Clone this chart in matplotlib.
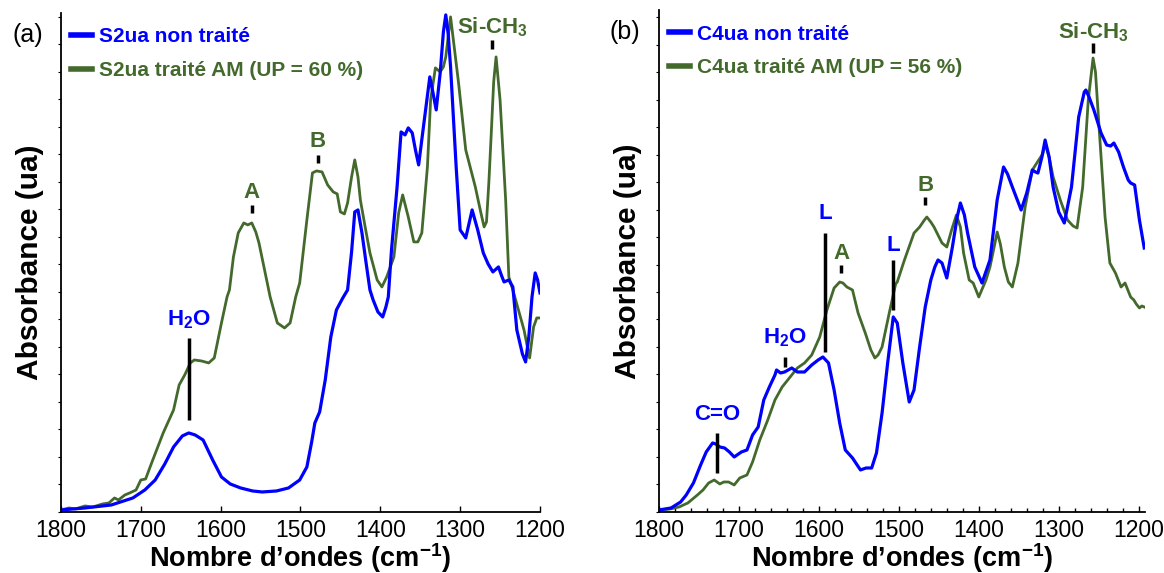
import matplotlib
matplotlib.use("Agg")
import matplotlib.pyplot as plt
from matplotlib.ticker import MultipleLocator, NullFormatter

plt.rcParams['font.family'] = ['Liberation Sans', 'DejaVu Sans']
plt.rcParams['mathtext.fontset'] = 'custom'
plt.rcParams['mathtext.rm'] = 'Liberation Sans'
plt.rcParams['mathtext.bf'] = 'Liberation Sans:bold'
plt.rcParams['mathtext.default'] = 'bf'

BLUE = '#0000FF'
GREEN = '#436A2C'

# ---- panel (a) data : S2ua ----
wn_a_blue = [1800, 1770, 1737, 1710, 1695, 1682, 1670, 1659, 1648, 1640, 1632, 1622, 1610, 1599,
             1588, 1575, 1560, 1548, 1530, 1515, 1501, 1492, 1486, 1482, 1476, 1469, 1462, 1455,
             1447, 1441, 1436, 1432, 1428, 1423, 1418, 1413, 1409, 1403, 1397, 1393, 1390, 1386,
             1379, 1374, 1369, 1365, 1360, 1356, 1352, 1346, 1342, 1338, 1334, 1330, 1325, 1321,
             1318, 1315, 1312, 1305, 1300, 1293, 1285, 1278, 1271, 1265, 1259, 1252, 1248, 1245,
             1239, 1234, 1229, 1222, 1218, 1214, 1210, 1206, 1203, 1200]
abs_a_blue = [2, 4, 7, 14, 22, 32, 48, 65, 76, 79, 77, 72, 52, 35,
              28, 24, 21, 20, 21, 24, 32, 45, 70, 89, 100, 132, 175, 202,
              214, 222, 260, 300, 302, 279, 250, 222, 212, 200, 195, 205, 215, 262,
              325, 380, 377, 384, 379, 362, 347, 385, 410, 435, 419, 402, 439, 480,
              497, 478, 445, 345, 282, 274, 302, 282, 259, 248, 240, 245, 236, 230,
              232, 225, 182, 158, 150, 175, 215, 239, 232, 219]

wn_a_green = [1800, 1790, 1782, 1770, 1760, 1748, 1740, 1733, 1728, 1720, 1714, 1706, 1700, 1694,
              1686, 1672, 1659, 1652, 1645, 1638, 1633, 1624, 1615, 1608, 1599, 1592, 1589, 1584,
              1578, 1571, 1566, 1561, 1556, 1552, 1545, 1538, 1529, 1520, 1513, 1506, 1501, 1492,
              1485, 1480, 1473, 1466, 1459, 1454, 1450, 1445, 1441, 1436, 1432, 1428, 1425, 1419,
              1413, 1404, 1398, 1392, 1383, 1377, 1372, 1365, 1358, 1353, 1348, 1341, 1337, 1331,
              1325, 1321, 1318, 1312, 1302, 1293, 1281, 1274, 1270, 1267, 1264, 1261, 1258, 1255,
              1250, 1243, 1239, 1234, 1227, 1220, 1213, 1208, 1204, 1200]
abs_a_green = [2, 4, 3, 6, 5, 8, 9, 14, 12, 17, 19, 22, 32, 33,
               50, 79, 102, 127, 137, 149, 152, 151, 149, 154, 189, 215, 222, 255,
               279, 289, 287, 289, 280, 269, 242, 215, 189, 184, 189, 215, 229, 292,
               339, 341, 340, 327, 320, 318, 300, 298, 309, 335, 352, 335, 312, 285,
               259, 232, 225, 235, 255, 299, 317, 295, 270, 270, 279, 345, 412, 444,
               440, 445, 455, 495, 429, 362, 325, 299, 285, 290, 330, 379, 430, 455,
               412, 312, 235, 222, 202, 182, 154, 185, 194, 194]

# ---- panel (b) data : C4ua ----
wn_b_blue = [1800, 1785, 1773, 1766, 1757, 1748, 1741, 1733, 1729, 1724, 1718, 1712, 1706, 1697,
             1690, 1683, 1676, 1669, 1662, 1655, 1653, 1648, 1643, 1634, 1627, 1618, 1609, 1601,
             1595, 1588, 1581, 1574, 1567, 1558, 1548, 1541, 1534, 1528, 1521, 1514, 1507, 1502,
             1495, 1487, 1481, 1474, 1467, 1460, 1455, 1451, 1446, 1440, 1433, 1427, 1423, 1418,
             1414, 1405, 1396, 1386, 1377, 1369, 1364, 1358, 1347, 1340, 1333, 1329, 1326, 1321,
             1317, 1312, 1307, 1300, 1293, 1284, 1275, 1268, 1266, 1262, 1256, 1247, 1240, 1235,
             1231, 1225, 1219, 1213, 1210, 1205, 1199, 1193]
abs_b_blue = [2, 4, 10, 17, 29, 47, 60, 69, 68, 65, 64, 60, 55, 60,
              62, 77, 85, 112, 125, 137, 142, 139, 140, 144, 140, 140, 147, 152,
              155, 149, 122, 89, 62, 54, 42, 44, 44, 59, 99, 149, 195, 189,
              149, 110, 122, 165, 205, 232, 245, 252, 249, 234, 265, 295, 309, 297,
              279, 245, 229, 252, 312, 345, 338, 325, 302, 319, 342, 340, 339, 355,
              372, 355, 325, 300, 289, 325, 395, 420, 422, 415, 402, 379, 367, 366,
              369, 360, 345, 332, 329, 327, 292, 264]

wn_b_green = [1800, 1786, 1775, 1764, 1752, 1745, 1738, 1731, 1724, 1719, 1713, 1706, 1699, 1690,
              1683, 1674, 1664, 1655, 1646, 1636, 1627, 1618, 1609, 1599, 1590, 1581, 1574, 1570,
              1565, 1558, 1551, 1542, 1535, 1530, 1526, 1521, 1512, 1504, 1502, 1493, 1481, 1474,
              1468, 1465, 1460, 1456, 1446, 1440, 1434, 1428, 1423, 1419, 1412, 1407, 1400, 1391,
              1386, 1380, 1377, 1373, 1368, 1363, 1358, 1351, 1342, 1333, 1325, 1320, 1317, 1312,
              1307, 1298, 1289, 1282, 1277, 1270, 1263, 1259, 1257, 1254, 1249, 1242, 1236, 1229,
              1222, 1217, 1210, 1206, 1203, 1199, 1196, 1193]
abs_b_green = [2, 3, 5, 9, 17, 22, 29, 32, 28, 30, 30, 27, 34, 37,
               50, 72, 92, 112, 125, 135, 144, 149, 157, 175, 202, 224, 230, 229,
               225, 222, 199, 179, 162, 154, 157, 165, 199, 228, 230, 252, 279, 285,
               292, 295, 290, 285, 269, 265, 282, 297, 285, 259, 232, 229, 215, 232,
               245, 268, 280, 268, 245, 230, 225, 249, 305, 342, 352, 358, 368, 355,
               335, 312, 292, 286, 284, 325, 412, 440, 454, 440, 379, 295, 249, 239,
               225, 229, 215, 212, 208, 204, 206, 205]

legend_a = ['S2ua non traité', 'S2ua traité AM (UP = 60 %)']
legend_b = ['C4ua non traité', 'C4ua traité AM (UP = 56 %)']

# peak labels: (text, wavenumber, colour key)
peaks_a = [('H$_2$O', 1640, 'b'), ('A', 1561, 'g'), ('B', 1478, 'g'), ('Si-CH$_3$', 1260, 'g')]
peaks_b = [('C=O', 1727, 'b'), ('H$_2$O', 1642, 'b'), ('L', 1592, 'b'), ('A', 1572, 'g'),
           ('L', 1507, 'b'), ('B', 1467, 'g'), ('Si-CH$_3$', 1257, 'g')]

fig = plt.figure(figsize=(11.64, 5.73), dpi=100)
ax_a = fig.add_axes([0.0524, 0.1065, 0.4115, 0.871])
ax_b = fig.add_axes([0.5662, 0.1065, 0.4175, 0.876])


def style_axis(ax, xmin, ytop, minor):
    ax.set_xlim(1800, xmin)
    ax.set_ylim(0, ytop)
    for s in ['top', 'right']:
        ax.spines[s].set_visible(False)
    for s in ['left', 'bottom']:
        ax.spines[s].set_linewidth(1.3)
    ax.xaxis.set_major_locator(MultipleLocator(100))
    if minor:
        ax.xaxis.set_minor_locator(MultipleLocator(20))
        ax.tick_params(axis='x', which='minor', direction='in', length=3, width=1)
    ax.yaxis.set_major_locator(MultipleLocator(27.5))
    ax.yaxis.set_major_formatter(NullFormatter())
    ax.tick_params(axis='y', direction='out', length=2.5, width=0.8)
    ax.tick_params(axis='x', which='major', direction='in', length=4, width=1,
                   labelsize=16.5, pad=5)
    ax.set_xlabel('Nombre d’ondes (cm$^{-1}$)', fontsize=19.5, fontweight='bold')
    # baseline of the x label sits ~55 px under the axis line
    ax.xaxis.label.set_va('baseline')
    ax.xaxis.set_label_coords(0.5, -55 / (ytop + 0.0))
    ax.set_ylabel('Absorbance (ua)', fontsize=21.5, fontweight='bold', labelpad=6)


def mark(ax, x, y0, y1):
    ax.plot([x, x], [y0, y1], color='black', lw=2.5, solid_capstyle='butt')


# ---- panel (a) ----
ax_a.plot(wn_a_green, abs_a_green, color=GREEN, lw=2.0, label=legend_a[1])
ax_a.plot(wn_a_blue, abs_a_blue, color=BLUE, lw=2.3, label=legend_a[0])
style_axis(ax_a, 1200, 499, False)

# label placement (text y, mark from, mark to) in axis units
place_a = [(192, 174, 92), (319, 307, 299), (370, 357, 349), (485, 472, 463)]
for (txt, w, c), (ty, m0, m1) in zip(peaks_a, place_a):
    mark(ax_a, w, m0, m1)
    ax_a.text(w, ty, txt, color=BLUE if c == 'b' else GREEN, fontsize=16,
              fontweight='bold', ha='center', va='center')

# ---- panel (b) ----
ax_b.plot(wn_b_green, abs_b_green, color=GREEN, lw=2.0, label=legend_b[1])
ax_b.plot(wn_b_blue, abs_b_blue, color=BLUE, lw=2.3, label=legend_b[0])
style_axis(ax_b, 1192, 502, True)

place_b = [(97, 79, 39), (174, 155, 145), (299, 279, 160), (259, 247, 239),
           (267, 252, 202), (327, 315, 307), (480, 469, 459)]
for (txt, w, c), (ty, m0, m1) in zip(peaks_b, place_b):
    mark(ax_b, w, m0, m1)
    ax_b.text(w, ty, txt, color=BLUE if c == 'b' else GREEN, fontsize=16,
              fontweight='bold', ha='center', va='center')

# legends (blue first, as in the original)
for ax in (ax_a, ax_b):
    h, l = ax.get_legend_handles_labels()
    leg = ax.legend(h[::-1], l[::-1], loc='upper left', bbox_to_anchor=(-0.009, 1.0),
                    borderaxespad=0, borderpad=0.7,
                    frameon=False, handlelength=1.0, handletextpad=0.35, labelspacing=0.7,
                    prop={'size': 15, 'weight': 'bold'})
    for t, line in zip(leg.get_texts(), leg.get_lines()):
        t.set_color(line.get_color())
        line.set_linewidth(4)

fig.text(28 / 1164, 1 - 35 / 573, '(a)', fontsize=18, ha='center', va='center')
fig.text(625 / 1164, 1 - 32 / 573, '(b)', fontsize=18, ha='center', va='center')

fig.savefig('out.png', dpi=100)
